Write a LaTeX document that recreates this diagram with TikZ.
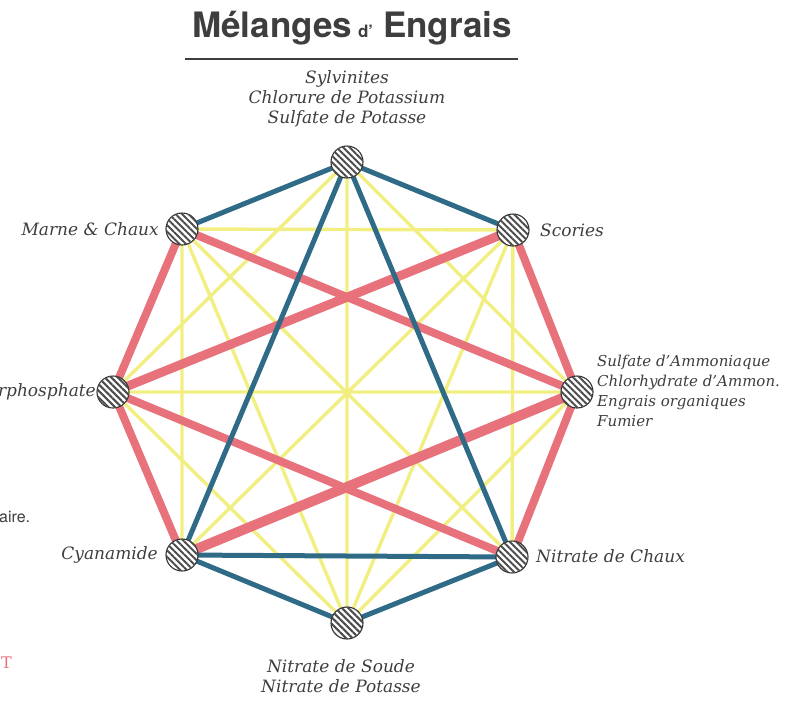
\documentclass[tikz,border=0pt]{standalone}
\usepackage{fontspec}
\usepackage{xcolor}
\usepackage{tikz}
\usetikzlibrary{patterns.meta,backgrounds}
\newfontfamily\lblfont{DejaVu Serif}
\newfontfamily\ttlfont{TeX Gyre Heros}
\definecolor{inkgray}{HTML}{3E3E3E}
\definecolor{potred}{HTML}{E8727C}
\definecolor{potblue}{HTML}{2F6A86}
\definecolor{potyellow}{HTML}{F2EF82}

\begin{document}
\begin{tikzpicture}[x=1pt,y=-1pt,
  fert/.style={circle,draw=black!80,line width=1.1pt,minimum size=32pt,inner sep=0pt,fill=white,
               postaction={pattern={Lines[angle=-45,distance=4.6pt,line width=2pt]},pattern color=black!70}},
  lbl/.style={font=\lblfont\itshape\fontsize{17}{20}\selectfont,text=inkgray,inner sep=0pt},
  okmix/.style={draw=potyellow,line width=3.4pt},
  nomix/.style={draw=potred,line width=8pt},
  latemix/.style={draw=potblue,line width=5pt}
]
\useasboundingbox (0,0) rectangle (788,702);

\node[anchor=base west,inner sep=0pt,text=inkgray,font=\ttlfont\bfseries\fontsize{35}{35}\selectfont] (title) at (192,37)
  {Mélanges\hspace{6pt}{\fontsize{17}{17}\selectfont d’}\hspace{10pt}Engrais};
\draw[inkgray,line width=1.6pt] (185,59) -- (518,59);

\node[fert] (sylv) at (347,162) {};
\node[fert] (scor) at (513,230) {};
\node[fert] (sulf) at (577,392) {};
\node[fert] (nchaux) at (512,557) {};
\node[fert] (nsoude) at (347,623) {};
\node[fert] (cyan) at (182,555) {};
\node[fert] (superp) at (113,392) {};
\node[fert] (marne) at (182,229) {};

\node[lbl,align=center] (sylvlbl) at (347,99) {Sylvinites\\Chlorure de Potassium\\Sulfate de Potasse};
\node[lbl,anchor=east] (marnelbl) at (159,229) {Marne \& Chaux};
\node[lbl,anchor=west] (scorlbl) at (540,230) {Scories};
\node[lbl,anchor=east] (superplbl) at (96,392) {Superphosphate};
\node[lbl,anchor=west,align=left,font=\lblfont\itshape\fontsize{15}{20}\selectfont] (sulflbl) at (597,391)
  {Sulfate d’Ammoniaque\\Chlorhydrate d’Ammon.\\Engrais organiques\\Fumier};
\node[lbl,anchor=west] (nchauxlbl) at (536,556) {Nitrate de Chaux};
\node[lbl,anchor=east] (cyanlbl) at (158,555) {Cyanamide};
\node[lbl,align=center] (nsoudelbl) at (341,676) {Nitrate de Soude\\Nitrate de Potasse};

\node[anchor=west,inner sep=0pt,text=inkgray,font=\ttlfont\fontsize{16}{16}\selectfont] (edge1) at (-1,517) {aire.};
\node[anchor=west,inner sep=0pt,text=potred,font=\lblfont\fontsize{16}{16}\selectfont] (edge2) at (1,663) {T};

\begin{scope}[on background layer]
\draw[okmix] (sylv.center)--(sulf.center) (sylv.center)--(nsoude.center) (sylv.center)--(superp.center)
  (scor.center)--(marne.center) (scor.center)--(nchaux.center) (scor.center)--(nsoude.center) (scor.center)--(cyan.center)
  (sulf.center)--(nsoude.center) (sulf.center)--(superp.center) (nchaux.center)--(marne.center)
  (nsoude.center)--(superp.center) (nsoude.center)--(marne.center) (cyan.center)--(marne.center);
\draw[nomix] (marne.center)--(superp.center) (superp.center)--(cyan.center) (scor.center)--(sulf.center)
  (sulf.center)--(nchaux.center) (marne.center)--(sulf.center) (superp.center)--(nchaux.center);
\draw[nomix,line width=9pt] (scor.center)--(superp.center);
\draw[nomix,line width=10pt] (cyan.center)--(sulf.center);
\draw[latemix] (sylv.center)--(marne.center) (sylv.center)--(scor.center) (sylv.center)--(cyan.center)
  (sylv.center)--(nchaux.center) (cyan.center)--(nchaux.center) (cyan.center)--(nsoude.center) (nsoude.center)--(nchaux.center);
\end{scope}
\end{tikzpicture}
\end{document}
